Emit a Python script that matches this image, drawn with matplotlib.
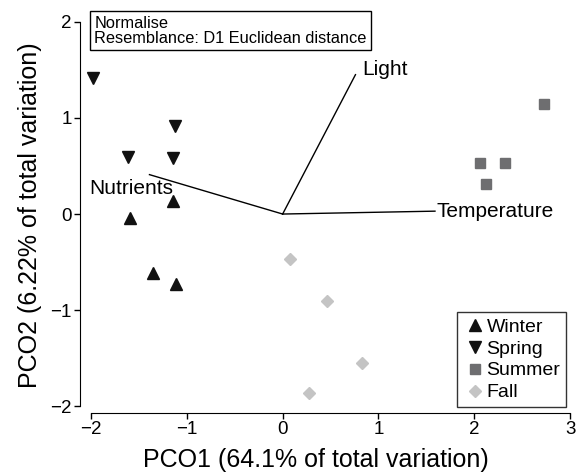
import matplotlib
matplotlib.use("Agg")
import matplotlib.pyplot as plt

plt.rcParams['font.family'] = ['Liberation Sans', 'DejaVu Sans']

winter_x = [-1.14, -1.59, -1.35, -1.11]
winter_y = [0.135, -0.04, -0.61, -0.73]
spring_x = [-1.98, -1.61, -1.12, -1.14]
spring_y = [1.42, 0.59, 0.92, 0.58]
summer_x = [2.73, 2.06, 2.32, 2.12]
summer_y = [1.15, 0.53, 0.53, 0.31]
fall_x = [0.08, 0.46, 0.83, 0.27]
fall_y = [-0.47, -0.90, -1.55, -1.86]

vec_names = ["Light", "Temperature", "Nutrients"]
vec_x = [0.76, 1.59, -1.39]
vec_y = [1.45, 0.03, 0.41]

xticks = [-2, -1, 0, 1, 2, 3]
yticks = [-2, -1, 0, 1, 2]

fig = plt.figure(figsize=(5.8, 4.75), dpi=100)
ax = fig.add_axes([80/580, (475-413)/475, (572-80)/580, (413-17)/475])
ax.set_xlim(-2.115, 3.02)
ax.set_ylim(-2.07, 2.05)

for sp in ['top', 'right']:
    ax.spines[sp].set_visible(False)
ax.spines['left'].set_bounds(-2, 2)
ax.spines['bottom'].set_bounds(-2, 3)
ax.set_xticks(xticks)
ax.set_yticks(yticks)
ax.set_xticklabels([str(t).replace('-', '\u2212') for t in xticks])
ax.set_yticklabels([str(t).replace('-', '\u2212') for t in yticks])
ax.tick_params(direction='out', length=4, width=1, labelsize=13.5, pad=2)

ax.plot(winter_x, winter_y, '^', color='#111111', ms=9, ls='none', label='Winter')
ax.plot(spring_x, spring_y, 'v', color='#111111', ms=9, ls='none', label='Spring')
ax.plot(summer_x, summer_y, 's', color='#6e6e70', ms=7.5, ls='none', label='Summer')
ax.plot(fall_x, fall_y, 'D', color='#c4c4c4', ms=6, ls='none', label='Fall')

for n, vx, vy in zip(vec_names, vec_x, vec_y):
    ax.plot([0, vx], [0, vy], color='black', lw=1)

ax.text(vec_x[0] + 0.07, 1.50, "Light", fontsize=15, ha='left', va='center')
ax.text(vec_x[1] + 0.02, vec_y[1], "Temperature", fontsize=15, ha='left', va='center')
ax.text(-1.585, 0.27, "Nutrients", fontsize=15, ha='center', va='center')

ax.text(-1.965, 2.065, "Normalise\nResemblance: D1 Euclidean distance", fontsize=11.8,
        ha='left', va='top', linespacing=1.0,
        bbox=dict(boxstyle='square,pad=0.25', fc='white', ec='black', lw=1))

leg = ax.legend(loc='lower right', bbox_to_anchor=(1.0, 0.0), fontsize=14,
                frameon=True, fancybox=False, handletextpad=0.0, handlelength=1.2,
                labelspacing=0.22, borderpad=0.3, borderaxespad=0.3)
leg.get_frame().set_edgecolor('black')
leg.get_frame().set_linewidth(1)

ax.set_xlabel("PCO1 (64.1% of total variation)", fontsize=18)
ax.xaxis.set_label_coords(0.48, -0.088)
ax.set_ylabel("PCO2 (6.22% of total variation)", fontsize=18, labelpad=6)

fig.savefig("out.png", dpi=100)
